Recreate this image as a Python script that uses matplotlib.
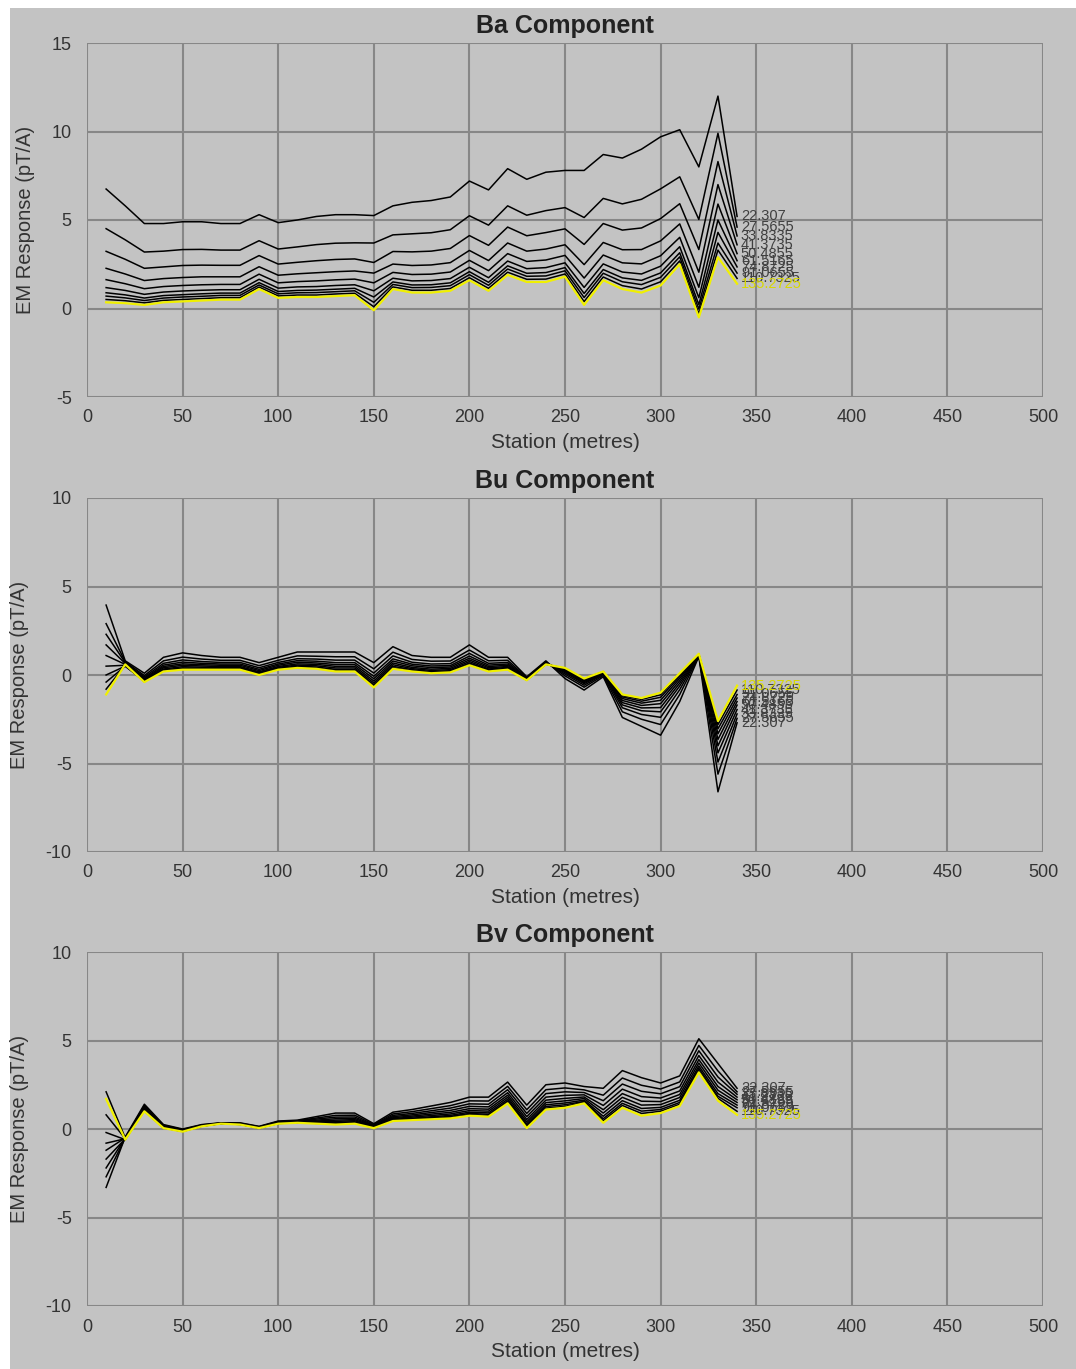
import numpy as np
import matplotlib
matplotlib.use("Agg")
import matplotlib.pyplot as plt
from matplotlib.patches import Rectangle

plt.rcParams['font.family'] = ['Liberation Sans', 'DejaVu Sans']
plt.rcParams['axes.unicode_minus'] = False

stations = [10, 20, 30, 40, 50, 60, 70, 80, 90, 100, 110, 120, 130, 140, 150, 160, 170,
            180, 190, 200, 210, 220, 230, 240, 250, 260, 270, 280, 290, 300, 310, 320, 330, 340]

channels = ["22.307", "27.5655", "33.8335", "41.3735", "50.4855",
            "61.5165", "74.8725", "91.0655", "110.7325", "135.2725"]

# one row per station, one column per channel
ba_rows = [
    [6.75, 4.51, 3.23, 2.27, 1.63, 1.18, 0.89, 0.70, 0.51, 0.35],
    [5.8, 3.88, 2.78, 1.95, 1.4, 1.02, 0.77, 0.6, 0.44, 0.3],
    [4.8, 3.19, 2.27, 1.58, 1.12, 0.8, 0.59, 0.45, 0.32, 0.2],
    [4.8, 3.24, 2.35, 1.69, 1.24, 0.93, 0.73, 0.59, 0.46, 0.35],
    [4.9, 3.33, 2.43, 1.75, 1.3, 0.99, 0.78, 0.65, 0.51, 0.4],
    [4.9, 3.34, 2.45, 1.79, 1.34, 1.03, 0.83, 0.69, 0.56, 0.45],
    [4.8, 3.3, 2.44, 1.79, 1.36, 1.06, 0.87, 0.74, 0.61, 0.5],
    [4.8, 3.3, 2.44, 1.79, 1.36, 1.06, 0.87, 0.74, 0.61, 0.5],
    [5.3, 3.83, 2.99, 2.36, 1.94, 1.65, 1.46, 1.33, 1.21, 1.1],
    [4.85, 3.36, 2.51, 1.88, 1.45, 1.15, 0.96, 0.83, 0.71, 0.6],
    [5.0, 3.48, 2.61, 1.96, 1.52, 1.22, 1.02, 0.89, 0.76, 0.65],
    [5.2, 3.61, 2.7, 2.02, 1.56, 1.24, 1.04, 0.9, 0.76, 0.65],
    [5.3, 3.69, 2.77, 2.08, 1.62, 1.3, 1.09, 0.95, 0.82, 0.7],
    [5.3, 3.71, 2.8, 2.12, 1.66, 1.34, 1.14, 1.0, 0.86, 0.75],
    [5.25, 3.7, 2.6, 2.0, 1.45, 1.0, 0.65, 0.35, 0.1, -0.1],
    [5.8, 4.16, 3.22, 2.51, 2.04, 1.71, 1.5, 1.36, 1.22, 1.1],
    [6.0, 4.22, 3.2, 2.43, 1.92, 1.56, 1.33, 1.18, 1.03, 0.9],
    [6.1, 4.28, 3.24, 2.46, 1.94, 1.58, 1.34, 1.19, 1.03, 0.9],
    [6.3, 4.45, 3.39, 2.59, 2.06, 1.69, 1.45, 1.29, 1.13, 1.0],
    [7.2, 5.24, 4.12, 3.28, 2.72, 2.33, 2.08, 1.91, 1.74, 1.6],
    [6.7, 4.71, 3.57, 2.71, 2.14, 1.74, 1.48, 1.31, 1.14, 1.0],
    [7.9, 5.8, 4.6, 3.7, 3.1, 2.68, 2.41, 2.23, 2.05, 1.9],
    [7.3, 5.27, 4.11, 3.24, 2.66, 2.25, 1.99, 1.82, 1.65, 1.5],
    [7.7, 5.53, 4.29, 3.36, 2.74, 2.31, 2.03, 1.84, 1.66, 1.5],
    [7.8, 5.7, 4.5, 3.6, 3.0, 2.58, 2.31, 2.13, 1.95, 1.8],
    [7.8, 5.14, 3.62, 2.48, 1.72, 1.19, 0.85, 0.62, 0.39, 0.2],
    [8.7, 6.22, 4.8, 3.73, 3.02, 2.52, 2.2, 1.99, 1.78, 1.6],
    [8.5, 5.91, 4.43, 3.32, 2.58, 2.06, 1.73, 1.51, 1.29, 1.1],
    [9.0, 6.17, 4.55, 3.33, 2.52, 1.95, 1.59, 1.35, 1.1, 0.9],
    [9.7, 6.76, 5.08, 3.82, 2.98, 2.39, 2.01, 1.76, 1.51, 1.3],
    [10.1, 7.44, 5.92, 4.78, 4.02, 3.49, 3.15, 2.92, 2.69, 2.5],
    [8.0, 5.03, 3.33, 2.05, 1.2, 0.61, 0.22, -0.03, -0.29, -0.5],
    [12.0, 9.9, 8.3, 7.0, 5.9, 5.0, 4.3, 3.7, 3.3, 2.9],
    [5.2, 4.6, 4.1, 3.6, 3.1, 2.7, 2.35, 2.0, 1.7, 1.4],
]

bu_rows = [
    [3.95, 2.9, 2.3, 1.7, 1.1, 0.5, 0.0, -0.4, -0.8, -1.1],
    [0.8, 0.75, 0.7, 0.65, 0.6, 0.55, 0.5, 0.5, 0.55, 0.6],
    [0.1, -0.03, -0.11, -0.18, -0.23, -0.27, -0.31, -0.35, -0.38, -0.4],
    [1.0, 0.8, 0.66, 0.56, 0.48, 0.41, 0.34, 0.29, 0.24, 0.2],
    [1.25, 1.01, 0.85, 0.73, 0.63, 0.55, 0.47, 0.4, 0.35, 0.3],
    [1.1, 0.9, 0.76, 0.66, 0.58, 0.51, 0.44, 0.39, 0.34, 0.3],
    [1.0, 0.83, 0.71, 0.62, 0.55, 0.48, 0.43, 0.38, 0.34, 0.3],
    [1.0, 0.83, 0.71, 0.62, 0.55, 0.48, 0.43, 0.38, 0.34, 0.3],
    [0.7, 0.53, 0.41, 0.32, 0.25, 0.18, 0.13, 0.08, 0.04, 0.0],
    [1.0, 0.83, 0.71, 0.62, 0.55, 0.48, 0.43, 0.38, 0.34, 0.3],
    [1.3, 1.08, 0.92, 0.81, 0.72, 0.63, 0.56, 0.5, 0.45, 0.4],
    [1.3, 1.06, 0.9, 0.78, 0.68, 0.6, 0.52, 0.45, 0.4, 0.35],
    [1.3, 1.03, 0.84, 0.7, 0.59, 0.49, 0.4, 0.32, 0.26, 0.2],
    [1.3, 1.03, 0.84, 0.7, 0.59, 0.49, 0.4, 0.32, 0.26, 0.2],
    [0.7, 0.35, 0.11, -0.07, -0.21, -0.34, -0.45, -0.55, -0.63, -0.7],
    [1.6, 1.29, 1.08, 0.91, 0.79, 0.68, 0.58, 0.49, 0.41, 0.35],
    [1.1, 0.88, 0.72, 0.61, 0.52, 0.43, 0.36, 0.3, 0.25, 0.2],
    [1.0, 0.78, 0.62, 0.51, 0.42, 0.33, 0.26, 0.2, 0.15, 0.1],
    [1.0, 0.79, 0.64, 0.53, 0.45, 0.37, 0.3, 0.24, 0.19, 0.15],
    [1.7, 1.41, 1.22, 1.07, 0.95, 0.85, 0.76, 0.68, 0.61, 0.55],
    [1.0, 0.8, 0.66, 0.56, 0.48, 0.41, 0.34, 0.29, 0.24, 0.2],
    [1.0, 0.83, 0.71, 0.62, 0.55, 0.48, 0.43, 0.38, 0.34, 0.3],
    [-0.1, -0.15, -0.18, -0.21, -0.23, -0.25, -0.26, -0.28, -0.29, -0.3],
    [0.8, 0.75, 0.72, 0.69, 0.67, 0.65, 0.64, 0.62, 0.61, 0.6],
    [-0.2, -0.05, 0.05, 0.13, 0.19, 0.24, 0.29, 0.33, 0.37, 0.4],
    [-0.85, -0.69, -0.58, -0.49, -0.43, -0.37, -0.32, -0.27, -0.23, -0.2],
    [-0.1, -0.03, 0.03, 0.07, 0.1, 0.12, 0.15, 0.17, 0.19, 0.2],
    [-2.4, -2.08, -1.85, -1.69, -1.56, -1.44, -1.33, -1.24, -1.17, -1.1],
    [-2.9, -2.5, -2.23, -2.02, -1.86, -1.72, -1.59, -1.48, -1.38, -1.3],
    [-3.4, -2.8, -2.39, -2.08, -1.84, -1.62, -1.43, -1.26, -1.12, -1.0],
    [-1.5, -1.1, -0.83, -0.62, -0.46, -0.32, -0.19, -0.08, 0.02, 0.1],
    [1.05, 1.08, 1.1, 1.1, 1.12, 1.13, 1.15, 1.17, 1.18, 1.2],
    [-6.6, -5.6, -4.92, -4.4, -4.0, -3.64, -3.32, -3.04, -2.8, -2.6],
    [-2.7, -2.45, -2.2, -1.95, -1.7, -1.5, -1.3, -1.1, -0.85, -0.6],
]

bv_rows = [
    [-3.3, -2.7, -2.2, -1.7, -1.2, -0.8, -0.2, 0.8, 2.1, 1.7],
    [-0.45, -0.5, -0.5, -0.55, -0.5, -0.55, -0.6, -0.55, -0.5, -0.6],
    [1.4, 1.32, 1.26, 1.2, 1.15, 1.11, 1.08, 1.05, 1.02, 1.0],
    [0.25, 0.21, 0.18, 0.15, 0.13, 0.11, 0.09, 0.07, 0.06, 0.05],
    [0.0, -0.03, -0.05, -0.08, -0.09, -0.11, -0.12, -0.13, -0.14, -0.15],
    [0.25, 0.23, 0.21, 0.2, 0.19, 0.18, 0.17, 0.16, 0.16, 0.15],
    [0.35, 0.34, 0.33, 0.33, 0.32, 0.31, 0.31, 0.31, 0.3, 0.3],
    [0.35, 0.33, 0.31, 0.3, 0.29, 0.28, 0.27, 0.26, 0.26, 0.25],
    [0.15, 0.13, 0.11, 0.1, 0.09, 0.08, 0.07, 0.06, 0.06, 0.05],
    [0.45, 0.42, 0.4, 0.38, 0.36, 0.34, 0.33, 0.32, 0.31, 0.3],
    [0.5, 0.47, 0.45, 0.43, 0.41, 0.39, 0.38, 0.37, 0.36, 0.35],
    [0.7, 0.62, 0.56, 0.5, 0.45, 0.41, 0.38, 0.35, 0.32, 0.3],
    [0.9, 0.77, 0.67, 0.58, 0.5, 0.43, 0.37, 0.33, 0.29, 0.25],
    [0.9, 0.78, 0.68, 0.6, 0.53, 0.47, 0.41, 0.37, 0.34, 0.3],
    [0.3, 0.25, 0.21, 0.18, 0.15, 0.12, 0.1, 0.08, 0.07, 0.05],
    [0.95, 0.85, 0.77, 0.7, 0.64, 0.59, 0.55, 0.51, 0.48, 0.45],
    [1.1, 0.98, 0.88, 0.8, 0.73, 0.67, 0.61, 0.57, 0.54, 0.5],
    [1.3, 1.15, 1.03, 0.93, 0.84, 0.76, 0.69, 0.64, 0.6, 0.55],
    [1.5, 1.32, 1.18, 1.05, 0.94, 0.85, 0.77, 0.71, 0.65, 0.6],
    [1.8, 1.59, 1.42, 1.28, 1.15, 1.04, 0.95, 0.88, 0.81, 0.75],
    [1.8, 1.58, 1.4, 1.25, 1.12, 1.01, 0.91, 0.83, 0.77, 0.7],
    [2.65, 2.41, 2.22, 2.05, 1.91, 1.79, 1.68, 1.59, 1.52, 1.45],
    [1.35, 1.09, 0.88, 0.7, 0.54, 0.41, 0.3, 0.21, 0.13, 0.05],
    [2.5, 2.22, 2.0, 1.8, 1.63, 1.49, 1.37, 1.27, 1.18, 1.1],
    [2.6, 2.32, 2.1, 1.9, 1.73, 1.59, 1.47, 1.37, 1.28, 1.2],
    [2.4, 2.21, 2.06, 1.93, 1.81, 1.72, 1.63, 1.56, 1.51, 1.45],
    [2.3, 1.91, 1.6, 1.33, 1.09, 0.9, 0.72, 0.58, 0.47, 0.35],
    [3.3, 2.88, 2.54, 2.25, 2.0, 1.79, 1.6, 1.45, 1.33, 1.2],
    [2.9, 2.47, 2.13, 1.83, 1.57, 1.35, 1.16, 1.01, 0.88, 0.75],
    [2.6, 2.26, 1.99, 1.75, 1.55, 1.38, 1.22, 1.1, 1.0, 0.9],
    [3.0, 2.66, 2.39, 2.15, 1.95, 1.78, 1.62, 1.5, 1.4, 1.3],
    [5.1, 4.72, 4.42, 4.15, 3.92, 3.73, 3.56, 3.43, 3.31, 3.2],
    [3.7, 3.28, 2.94, 2.65, 2.4, 2.19, 2.0, 1.85, 1.73, 1.6],
    [2.3, 2.1, 1.96, 1.8, 1.65, 1.5, 1.35, 1.2, 1.0, 0.8],
]

panels = [
    ("Ba Component", ba_rows, (-5, 15), [-5, 0, 5, 10, 15]),
    ("Bu Component", bu_rows, (-10, 10), [-10, -5, 0, 5, 10]),
    ("Bv Component", bv_rows, (-10, 10), [-10, -5, 0, 5, 10]),
]

bg = "#c3c3c3"
grid_col = "#878787"
text_col = "#333333"

fig = plt.figure(figsize=(10.76, 13.69), dpi=100, facecolor="white")
backdrop = Rectangle((10 / 1076, 0), 1 - 10 / 1076, 1 - 8 / 1369,
                     transform=fig.transFigure, facecolor=bg, edgecolor="none", zorder=-10)
fig.add_artist(backdrop)

# axes boxes in pixels: (top, bottom)
boxes = [(43, 397), (498, 852), (952, 1306)]
left, right = 87, 1043

for (title, rows, ylim, yticks), (top, bottom) in zip(panels, boxes):
    ax = fig.add_axes([left / 1076, 1 - bottom / 1369, (right - left) / 1076, (bottom - top) / 1369])
    ax.set_facecolor(bg)
    data = np.array(rows)
    n = data.shape[1]
    for i in range(n):
        if i == n - 1:
            ax.plot(stations, data[:, i], color="#f0f000", lw=1.6, zorder=3)
        else:
            ax.plot(stations, data[:, i], color="black", lw=1.1, zorder=2)
    for i in range(n):
        col = "#d8d800" if i == n - 1 else "#404040"
        ax.text(stations[-1] + 2, data[-1, i], channels[i], fontsize=10.5, color=col,
                va="center", ha="left", zorder=4)
    ax.set_xlim(0, 500)
    ax.set_ylim(*ylim)
    ax.set_xticks(range(0, 501, 50))
    ax.set_yticks(yticks)
    ax.grid(True, color=grid_col, lw=1.5)
    ax.set_axisbelow(True)
    for s in ax.spines.values():
        s.set_visible(False)
    ax.tick_params(length=0, labelsize=13, labelcolor=text_col, pad=9)
    ax.tick_params(axis="y", pad=11)
    ax.set_title(title, fontsize=18, fontweight="bold", color="#222222", pad=7)
    ax.set_xlabel("Station (metres)", fontsize=15, color=text_col, labelpad=5)
    ax.set_ylabel("EM Response (pT/A)", fontsize=14.5, color=text_col, labelpad=12)

fig.savefig("out.png", dpi=100, facecolor="white")
